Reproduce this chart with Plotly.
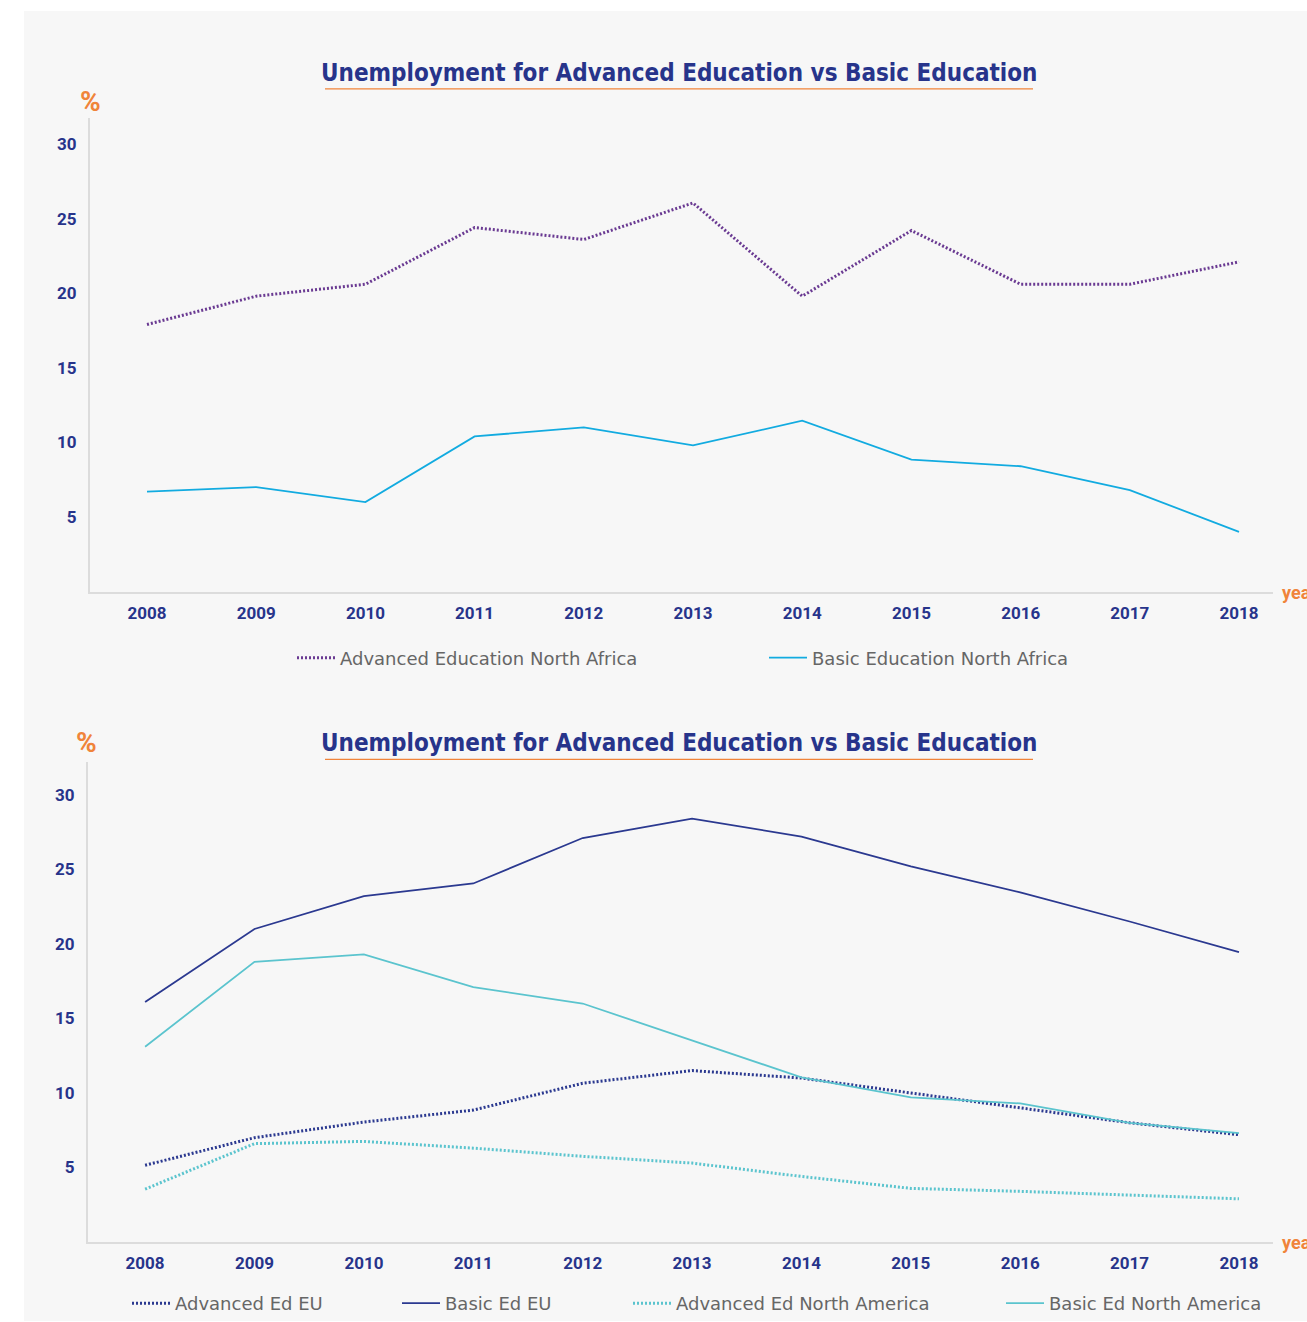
import plotly.graph_objects as go

years = [2008, 2009, 2010, 2011, 2012, 2013, 2014, 2015, 2016, 2017, 2018]

# Top chart: North Africa
adv_north_africa = [17.9, 19.8, 20.6, 24.4, 23.6, 26.05, 19.8, 24.2, 20.6, 20.6, 22.1]
basic_north_africa = [6.7, 7.0, 6.0, 10.4, 11.0, 9.8, 11.45, 8.85, 8.4, 6.8, 4.0]

# Bottom chart: EU and North America
adv_eu = [5.15, 7.0, 8.05, 8.85, 10.65, 11.5, 11.0, 10.0, 9.05, 8.0, 7.2]
basic_eu = [16.1, 21.0, 23.2, 24.05, 27.1, 28.4, 27.2, 25.2, 23.45, 21.5, 19.45]
adv_north_america = [3.55, 6.6, 6.75, 6.3, 5.75, 5.3, 4.4, 3.6, 3.4, 3.15, 2.9]
basic_north_america = [13.1, 18.8, 19.3, 17.1, 16.0, 13.5, 11.05, 9.7, 9.3, 8.0, 7.3]

y_ticks = [5, 10, 15, 20, 25, 30]
title_text = "Unemployment for Advanced Education vs Basic Education"

W, H = 1307, 1322
NAVY = "#27348B"
ORANGE = "#F0843A"
PURPLE = "#6A3A92"
CYAN = "#12ABE0"
TEAL = "#5BC4CE"
DARKNAVY = "#2B3990"

def px(x):
    return x / W

def py(y):
    return 1 - y / H

fig = go.Figure()

DOT = "2px,2px"

fig.add_trace(go.Scatter(x=years, y=adv_north_africa, mode="lines", name="Advanced Education North Africa",
                         line=dict(color=PURPLE, width=3, dash=DOT), xaxis="x", yaxis="y", legend="legend"))
fig.add_trace(go.Scatter(x=years, y=basic_north_africa, mode="lines", name="Basic Education North Africa",
                         line=dict(color=CYAN, width=1.8), xaxis="x", yaxis="y", legend="legend2"))

fig.add_trace(go.Scatter(x=years, y=adv_eu, mode="lines", name="Advanced Ed EU",
                         line=dict(color=DARKNAVY, width=3, dash=DOT), xaxis="x2", yaxis="y2", legend="legend3"))
fig.add_trace(go.Scatter(x=years, y=basic_eu, mode="lines", name="Basic Ed EU",
                         line=dict(color=DARKNAVY, width=1.8), xaxis="x2", yaxis="y2", legend="legend4"))
fig.add_trace(go.Scatter(x=years, y=adv_north_america, mode="lines", name="Advanced Ed North America",
                         line=dict(color=TEAL, width=3, dash=DOT), xaxis="x2", yaxis="y2", legend="legend5"))
fig.add_trace(go.Scatter(x=years, y=basic_north_america, mode="lines", name="Basic Ed North America",
                         line=dict(color=TEAL, width=1.8), xaxis="x2", yaxis="y2", legend="legend6"))

tickfont = dict(family="Roboto", size=17, color=NAVY, weight="bold")
xr = [2007.478, 2018.311]

common_x = dict(range=xr, tickmode="array", tickvals=years, ticktext=[str(y) for y in years],
                showgrid=False, zeroline=False, showline=True, linecolor="#dcdcdc", linewidth=2,
                ticks="", tickfont=tickfont, automargin=False, fixedrange=True, ticklabelstandoff=5)
common_y = dict(tickmode="array", tickvals=y_ticks, ticktext=[str(v) for v in y_ticks],
                showgrid=False, zeroline=False, showline=True, linecolor="#dcdcdc", linewidth=2,
                ticks="", tickfont=tickfont, automargin=False, fixedrange=True, ticklabelstandoff=8)

legfont = dict(family="DejaVu Sans", size=18, color="#666666")

def leg(text_x, y):
    return dict(x=px(text_x - 48), y=py(y), xanchor="left", yanchor="middle", orientation="h",
                bgcolor="rgba(0,0,0,0)", font=legfont, itemwidth=38)

fig.update_layout(
    width=W, height=H,
    margin=dict(l=0, r=0, t=0, b=0),
    paper_bgcolor="white",
    plot_bgcolor="rgba(0,0,0,0)",
    xaxis=dict(domain=[px(90), px(1273)], anchor="y", **common_x),
    yaxis=dict(domain=[py(592), py(118)], range=[0, 31.75], anchor="x", **common_y),
    xaxis2=dict(domain=[px(88), px(1273)], anchor="y2", **common_x),
    yaxis2=dict(domain=[py(1243), py(763)], range=[0, 32.17], anchor="x2", **common_y),
    legend=leg(340, 658),
    legend2=leg(812, 658),
    legend3=leg(175, 1304),
    legend4=leg(445, 1304),
    legend5=leg(676, 1304),
    legend6=leg(1049, 1304),
    showlegend=True,
)

# background panel
fig.add_shape(type="rect", xref="paper", yref="paper", x0=px(24), x1=1.0, y0=0, y1=py(11),
              fillcolor="#f7f7f7", line=dict(width=0), layer="below")

titlefont = dict(family="DejaVu Sans Condensed, Roboto", size=24, color=NAVY, weight="bold")
for cy, uy in [(73, 89), (744, 760)]:
    fig.add_annotation(text=title_text, xref="paper", yref="paper", x=px(679), y=py(cy),
                       xanchor="center", yanchor="middle", showarrow=False, font=titlefont)
    fig.add_shape(type="line", xref="paper", yref="paper", x0=px(325), x1=px(1033), y0=py(uy), y1=py(uy),
                  line=dict(color=ORANGE, width=1.2))

unitfont = dict(family="Roboto", size=28, color=ORANGE, weight="bold")
fig.add_annotation(text="%", xref="paper", yref="paper", x=px(90), y=py(102), xanchor="center",
                   yanchor="middle", showarrow=False, font=unitfont)
fig.add_annotation(text="%", xref="paper", yref="paper", x=px(86), y=py(743), xanchor="center",
                   yanchor="middle", showarrow=False, font=unitfont)
yearfont = dict(family="Roboto", size=18, color=ORANGE, weight="bold")
fig.add_annotation(text="year", xref="paper", yref="paper", x=px(1280), y=py(593), xanchor="left",
                   yanchor="middle", showarrow=False, font=yearfont)
fig.add_annotation(text="year", xref="paper", yref="paper", x=px(1280), y=py(1243), xanchor="left",
                   yanchor="middle", showarrow=False, font=yearfont)

fig.write_html("out.html", config={"displayModeBar": False},
               post_script="document.body.style.margin='0';document.body.style.overflow='hidden';")
